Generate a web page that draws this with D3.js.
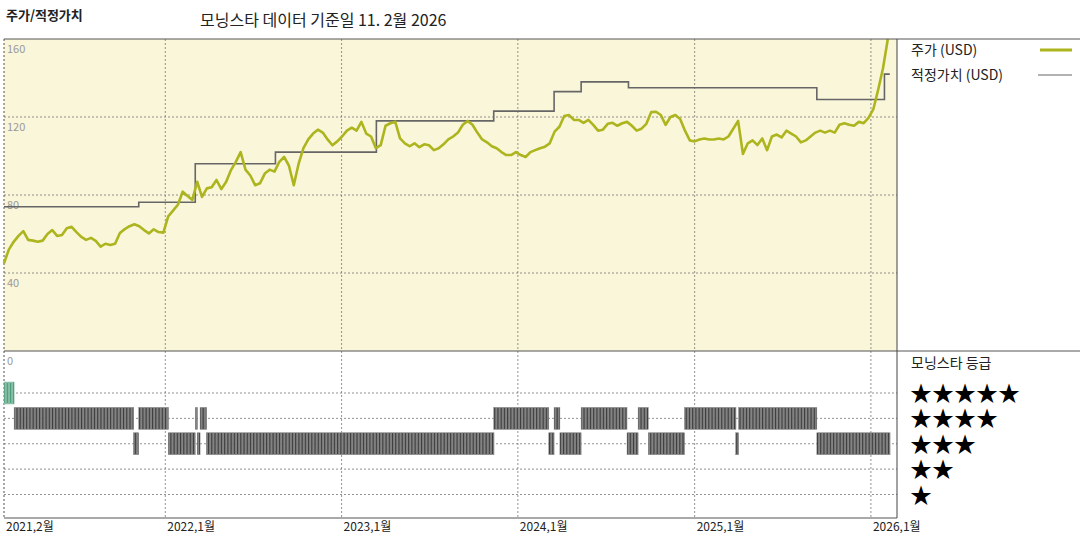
<!DOCTYPE html>
<html>
<head>
<meta charset="utf-8">
<script src="https://cdn.jsdelivr.net/npm/d3@7"></script>
<style>
  body { margin: 0; background: #fff; }
  text { font-family: "Noto Sans CJK KR", "DejaVu Sans", sans-serif; }
</style>
</head>
<body>
<div id="chart"></div>
<script>
// price sampled every 10 days starting 2021-02-01
var priceStart = "2021-02-01";
var priceStepDays = 10;
var prices = [45,52,56,59,61.5,57,56.6,56,56.6,60,62,59,59.5,63,63.7,61,58.5,57,58,56.5,
  53.5,55,54.4,55,60.5,62.5,64,65,64,62,60.3,62.4,61,60.7,69,72,75,81.7,79.5,77.5,
  86.8,79,83.4,84,87.7,83,86.8,92.8,97,102,93,90,85,86,91,93,92,97,99.5,95,
  85,96,104,108.5,111.5,113.5,112,108.5,105.5,107.5,110,113,114.5,113,117.5,111.5,110,104,105.6,115.5,
  116.8,117.6,109,106.5,105,106.5,104.5,106,105.5,103,104,106,108.5,110,112,116,118,116,112,108.5,
  107,105,104,102,100.5,100.5,102,100.5,99.5,102,103,104,104.8,106.5,112.5,115,120.5,121,118.5,118.5,
  117,118.5,116,113,113.5,116.5,117,115.5,116.8,117.5,115.5,113,114,116.5,122.5,122.7,121,116,120,121,
  119,113,108,107.5,108.5,109,108.5,108.5,109,108.5,110,114,118,101,106.5,108,105.6,109,103,110,
  111,109.5,113,111.5,110,107,108,110,112,113,112,113,112,116,116.8,116,115.5,117.5,116.8,119.5,
  124,134,145,160];

var fairDates  = ["2021-02-01","2021-11-07","2022-03-04","2022-08-17","2023-03-14","2023-11-12","2024-03-16","2024-05-11","2024-08-17","2025-09-11","2026-01-29","2026-02-09"];
var fairValues = [74,76.3,96,102,118,123,133,138,135,129,142,142];

var ratingStarts = ["2021-02-01","2021-02-22","2021-10-27","2021-11-07","2022-01-07","2022-03-04","2022-03-08","2022-03-14","2022-03-27","2023-11-12","2024-03-05","2024-03-16","2024-03-28","2024-05-11","2024-08-14","2024-09-06","2024-09-27","2024-12-11","2025-03-27","2025-04-02","2025-09-11"];
var ratingEnds   = ["2021-02-22","2021-10-27","2021-11-07","2022-01-07","2022-03-04","2022-03-08","2022-03-14","2022-03-27","2023-11-12","2024-03-05","2024-03-16","2024-03-28","2024-05-11","2024-08-14","2024-09-06","2024-09-27","2024-12-11","2025-03-27","2025-04-02","2025-09-11","2026-02-09"];
var ratingStars  = [5,4,3,4,3,4,3,4,3,4,3,4,3,4,3,4,3,4,3,4,3];

var yTicks = [0,40,80,120,160];
var xTickDates = ["2021-02-01","2022-01-01","2023-01-01","2024-01-01","2025-01-01","2026-01-01"];
var xTickLabels = ["2021,2월","2022,1월","2023,1월","2024,1월","2025,1월","2026,1월"];

var W = 1080, H = 540;
var plotLeft = 4, plotRight = 897, plotTop = 39, plotMid = 351, plotBottom = 518;
var parse = d3.timeParse("%Y-%m-%d");

var svg = d3.select("#chart").append("svg").attr("width", W).attr("height", H);

var x = d3.scaleTime()
  .domain([parse("2021-02-01"), parse("2026-02-24")])
  .range([plotLeft, plotRight]);
var y = d3.scaleLinear().domain([0, 160]).range([plotMid, plotTop]);
var yr = d3.scaleLinear().domain([5, 1]).range([393, 494.5]);

// price panel background
svg.append("rect").attr("x", plotLeft).attr("y", plotTop)
  .attr("width", plotRight - plotLeft).attr("height", plotMid - plotTop)
  .attr("fill", "#faf6da");

// header
svg.append("text").attr("x", 6).attr("y", 20).attr("font-size", 13).attr("font-weight", "bold")
  .attr("fill", "#222").text("주가/적정가치");
svg.append("text").attr("x", 200).attr("y", 26).attr("font-size", 16)
  .attr("fill", "#222").text("모닝스타 데이터 기준일 11. 2월 2026");

// grid
var grid = svg.append("g").attr("stroke", "#777").attr("stroke-dasharray", "2,2").attr("stroke-width", 0.8);
yTicks.slice(1, 4).forEach(function(v){
  grid.append("line").attr("x1", plotLeft).attr("x2", plotRight).attr("y1", y(v)).attr("y2", y(v));
});
[5,4,3,2,1].forEach(function(s){
  grid.append("line").attr("x1", plotLeft).attr("x2", plotRight).attr("y1", yr(s)).attr("y2", yr(s));
});
xTickDates.forEach(function(d){
  var px = x(parse(d));
  grid.append("line").attr("x1", px).attr("x2", px).attr("y1", plotTop).attr("y2", plotBottom);
});
grid.append("line").attr("x1", plotLeft).attr("x2", plotLeft).attr("y1", plotTop).attr("y2", plotBottom);

yTicks.forEach(function(v){
  svg.append("text").attr("x", 7).attr("y", y(v) + 14).attr("font-size", 11)
    .attr("fill", "#999").text(v);
});

// fair value step line
var fair = fairDates.map(function(d, i){ return {date: parse(d), v: fairValues[i]}; });
svg.append("path").datum(fair)
  .attr("d", d3.line().curve(d3.curveStepAfter).x(function(d){ return x(d.date); }).y(function(d){ return y(d.v); }))
  .attr("fill", "none").attr("stroke", "#666").attr("stroke-width", 1.6);

// price line
var p0 = parse(priceStart);
var priceData = prices.map(function(v, i){ return {date: d3.timeDay.offset(p0, i * priceStepDays), v: v}; });
svg.append("path").datum(priceData)
  .attr("d", d3.line().x(function(d){ return x(d.date); }).y(function(d){ return y(d.v); }))
  .attr("fill", "none").attr("stroke", "#adb51e").attr("stroke-width", 2.6).attr("stroke-linejoin", "round");

// rating stripes
var rg = svg.append("g");
ratingStars.forEach(function(s, i){
  var a = parse(ratingStarts[i]), b = parse(ratingEnds[i]);
  d3.timeDay.range(a, b, 3).forEach(function(d){
    var e = d3.min([d3.timeDay.offset(d, 3), b]);
    rg.append("rect")
      .attr("x", x(d)).attr("width", Math.max(0.8, x(e) - x(d)))
      .attr("y", yr(s) - 11).attr("height", 22)
      .attr("fill", s === 5 ? "#4a9a7a" : "#3a3a3a")
      .attr("stroke", s === 5 ? "#9cc9b4" : "#9a9a9a").attr("stroke-width", 0.5);
  });
});

// frame lines
svg.append("line").attr("x1", plotLeft).attr("x2", W).attr("y1", plotTop).attr("y2", plotTop).attr("stroke", "#555");
svg.append("line").attr("x1", plotLeft).attr("x2", W).attr("y1", plotMid).attr("y2", plotMid).attr("stroke", "#555");
svg.append("line").attr("x1", plotLeft).attr("x2", plotRight).attr("y1", plotBottom).attr("y2", plotBottom).attr("stroke", "#555");
svg.append("line").attr("x1", plotRight).attr("x2", plotRight).attr("y1", plotTop).attr("y2", plotBottom).attr("stroke", "#444");

// x labels
xTickDates.forEach(function(d, i){
  svg.append("text").attr("x", x(parse(d)) + 2).attr("y", 531).attr("font-size", 12)
    .attr("fill", "#222").text(xTickLabels[i]);
});

// legend
svg.append("text").attr("x", 911).attr("y", 55).attr("font-size", 14).attr("fill", "#222").text("주가 (USD)");
svg.append("line").attr("x1", 1040).attr("x2", 1072).attr("y1", 50).attr("y2", 50).attr("stroke", "#adb51e").attr("stroke-width", 3);
svg.append("text").attr("x", 911).attr("y", 80).attr("font-size", 14).attr("fill", "#222").text("적정가치 (USD)");
svg.append("line").attr("x1", 1038).attr("x2", 1072).attr("y1", 75).attr("y2", 75).attr("stroke", "#666").attr("stroke-width", 1.2);
svg.append("text").attr("x", 911).attr("y", 368).attr("font-size", 14).attr("fill", "#222").text("모닝스타 등급");
[5,4,3,2,1].forEach(function(s){
  svg.append("text").attr("x", 910).attr("y", yr(s) + 8).attr("font-size", 22)
    .attr("font-family", "DejaVu Sans").attr("fill", "#000").text(d3.range(s).map(function(){ return "★"; }).join(""));
});
</script>
</body>
</html>
